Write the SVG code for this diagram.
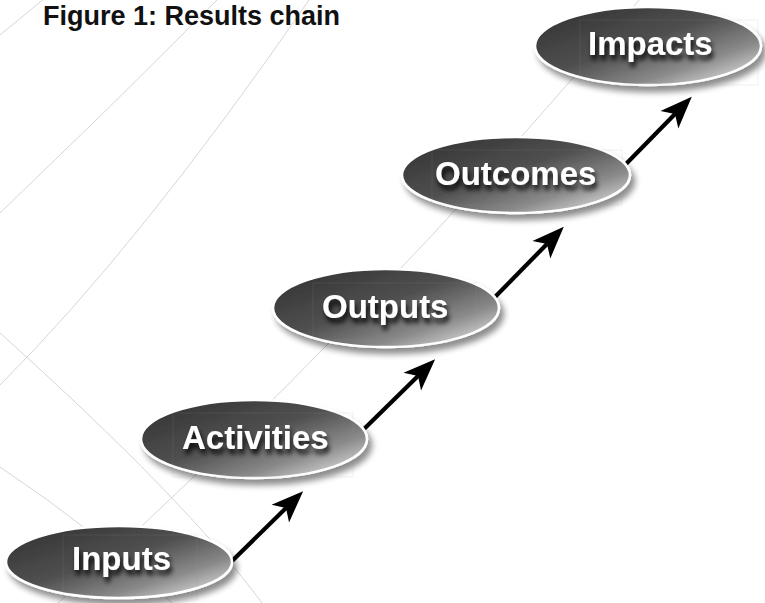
<svg xmlns="http://www.w3.org/2000/svg" width="765" height="603" viewBox="0 0 765 603">
<style>
.grid{fill:none;stroke:#cbcbcb;stroke-width:0.8}
.ell{fill:url(#eg);stroke:#ffffff;stroke-width:2.5;filter:url(#ds)}
.box{fill:none;stroke:#9a9a9a;stroke-opacity:0.18;stroke-width:0.8}
.lbl{font-family:"Liberation Sans",Arial,sans-serif;font-weight:bold;font-size:33px;fill:#ffffff;filter:url(#ts)}
.title{font-family:"Liberation Sans",Arial,sans-serif;font-weight:bold;font-size:27px;fill:#111111}
.conn{stroke:#000000;stroke-width:4.2;fill:none;marker-end:url(#ah)}
</style>
<defs>
<linearGradient id="eg" x1="0.15" y1="0.1" x2="1" y2="0.95">
<stop offset="0" stop-color="#383838"/>
<stop offset="0.4" stop-color="#505050"/>
<stop offset="0.7" stop-color="#8a8a8a"/>
<stop offset="1" stop-color="#efefef"/>
</linearGradient>
<filter id="ds" x="-20%" y="-30%" width="140%" height="170%">
<feGaussianBlur in="SourceAlpha" stdDeviation="3"/>
<feOffset dx="4" dy="6" result="b"/>
<feComponentTransfer><feFuncA type="linear" slope="0.45"/></feComponentTransfer>
<feMerge><feMergeNode/><feMergeNode in="SourceGraphic"/></feMerge>
</filter>
<filter id="ts" x="-20%" y="-40%" width="140%" height="200%">
<feGaussianBlur in="SourceAlpha" stdDeviation="2.5"/>
<feOffset dx="2" dy="5"/>
<feComponentTransfer><feFuncA type="linear" slope="0.9"/></feComponentTransfer>
<feMerge><feMergeNode/><feMergeNode in="SourceGraphic"/></feMerge>
</filter>
<marker id="ah" markerUnits="userSpaceOnUse" viewBox="-12 -15 40 30" markerWidth="40" markerHeight="30" refX="0" refY="0" orient="auto">
<path d="M24,0 L-8,-12.5 L0,0 L-8,12.5 Z" fill="#000000"/>
</marker>
</defs>
<rect x="0" y="0" width="765" height="603" fill="#ffffff"/>
<g id="background-grid">
<path class="grid" d="M0,35 L45,-2"/>
<path class="grid" d="M0,213 Q110,108 218,-1"/>
<path class="grid" d="M0,385 Q140,245 309,0"/>
<path class="grid" d="M0,333 Q186,500 262,603"/>
<path class="grid" d="M0,467 Q95,530 172,603"/>
<path class="grid" d="M640,-1 Q372.7,319.8 58,603"/>
</g>
<text class="title" x="43" y="25">Figure 1: Results chain</text>
<g id="connectors">
<path class="conn" d="M231,562 L286,508"/>
<path class="conn" d="M363,430 L418,376"/>
<path class="conn" d="M494,298 L547,244"/>
<path class="conn" d="M625,165 L675,114"/>
</g>
<g id="node-inputs">
<ellipse class="ell" cx="119" cy="562" rx="113" ry="36"/>
<rect class="box" x="63" y="535" width="134" height="65"/>
<text class="lbl" x="72" y="570">Inputs</text>
</g>
<g id="node-activities">
<ellipse class="ell" cx="254" cy="439" rx="113" ry="39"/>
<rect class="box" x="173" y="413" width="180" height="64"/>
<text class="lbl" x="182" y="449">Activities</text>
</g>
<g id="node-outputs">
<ellipse class="ell" cx="386" cy="308" rx="113" ry="39"/>
<rect class="box" x="313" y="283" width="163" height="57"/>
<text class="lbl" x="322" y="318">Outputs</text>
</g>
<g id="node-outcomes">
<ellipse class="ell" cx="516" cy="175" rx="114" ry="38"/>
<rect class="box" x="432" y="150" width="190" height="55"/>
<text class="lbl" x="435" y="185">Outcomes</text>
</g>
<g id="node-impacts">
<ellipse class="ell" cx="648" cy="46" rx="113" ry="39"/>
<rect class="box" x="580" y="20" width="178" height="65"/>
<text class="lbl" x="588" y="55">Impacts</text>
</g>
</svg>
